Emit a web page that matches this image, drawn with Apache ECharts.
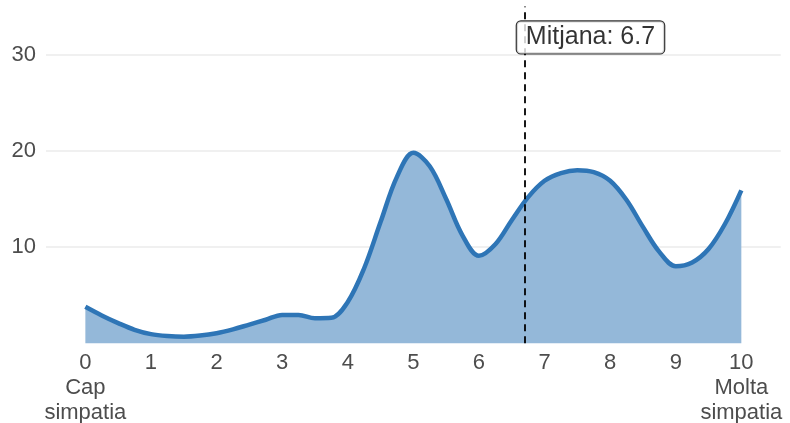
<!DOCTYPE html>
<html>
<head>
<meta charset="utf-8">
<script src="https://cdn.jsdelivr.net/npm/echarts@6/dist/echarts.min.js"></script>
<style>
html,body{margin:0;padding:0;background:#fff;}
#chart{width:790px;height:423px;}
</style>
</head>
<body>
<div id="chart"></div>
<script>
// Data
const xValues = [0,0.25,0.5,0.75,1,1.25,1.5,1.75,2,2.25,2.5,2.75,3,3.25,3.5,3.75,4,4.25,4.5,4.75,5,5.25,5.5,5.75,6,6.25,6.5,6.75,7,7.25,7.5,7.75,8,8.25,8.5,8.75,9,9.25,9.5,9.75,10];
const density = [3.8,2.9,2.1,1.4,0.95,0.75,0.68,0.8,1.05,1.45,1.95,2.45,2.95,2.95,2.6,2.65,4.3,7.8,12.6,17.3,19.8,18.4,15.0,11.2,9.1,10.3,12.8,15.2,16.9,17.7,18.0,17.8,16.9,14.9,12.1,9.5,8.0,8.4,9.8,12.4,15.9];
const xTicks = [0,1,2,3,4,5,6,7,8,9,10];
const xTickLabels = {0:'0\nCap\nsimpatia', 10:'10\nMolta\nsimpatia'};
const yTicks = [10,20,30];
const meanValue = 6.7;
const meanLabel = 'Mitjana: 6.7';
const meanLabelY = 31.8;

const font = '"Liberation Sans", Arial, sans-serif';
const chart = echarts.init(document.getElementById('chart'), null, {renderer:'canvas'});
chart.setOption({
  animation:false,
  grid:{left:46, right:9.3, top:6.6, bottom:79.7, containLabel:false, outerBoundsMode:'none'},
  xAxis:{
    type:'value', min:-0.6, max:10.6,
    axisLine:{show:false}, axisTick:{show:false}, splitLine:{show:false},
    axisLabel:{
      customValues:xTicks,
      fontFamily:font, fontSize:22, color:'#4d4d4d', lineHeight:25, margin:7,
      formatter:function(v){ return xTickLabels[v] !== undefined ? xTickLabels[v] : String(v); }
    }
  },
  yAxis:{
    type:'value', min:0, max:35, interval:10,
    axisLine:{show:false}, axisTick:{show:false},
    splitLine:{show:true, lineStyle:{color:['rgba(0,0,0,0)','#ebebeb','#ebebeb','#ebebeb','rgba(0,0,0,0)'], width:1.5}},
    axisLabel:{
      customValues:yTicks,
      fontFamily:font, fontSize:22, color:'#4d4d4d', margin:10
    }
  },
  series:[
    {
      type:'line',
      data:xValues.map((x,i)=>[x,density[i]]),
      smooth:0.35,
      showSymbol:false,
      lineStyle:{color:'#2e75b6', width:4.5},
      areaStyle:{color:'#94b8d9', opacity:1},
      z:2,
      markLine:{
        silent:true, symbol:['none','none'],
        label:{show:false},
        lineStyle:{color:'#000', type:[7,5], width:1.8},
        data:[{xAxis:meanValue}],
        z:3
      }
    },
    {
      type:'scatter',
      data:[[meanValue, meanLabelY]],
      symbolSize:0,
      z:10,
      label:{
        show:true,
        formatter:meanLabel,
        position:[-8,0],
        align:'left', verticalAlign:'middle',
        fontFamily:font, fontSize:25, color:'#000',
        backgroundColor:'#fff', borderColor:'#000', borderWidth:1.2, borderRadius:4,
        padding:[4,9,3,9]
      }
    }
  ]
});
</script>
</body>
</html>
